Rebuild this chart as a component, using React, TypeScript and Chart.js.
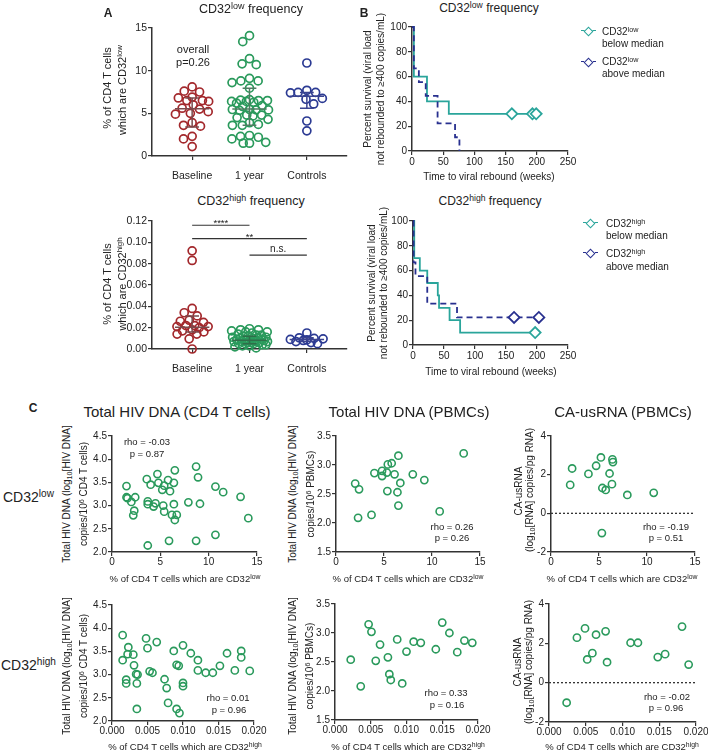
import React, { useEffect, useRef } from 'react';
import { Chart, registerables } from 'chart.js';
Chart.register(...registerables);

const FONT = '"Liberation Sans", Arial, Helvetica, sans-serif';
const INK = '#222';
const RED = '#a3282c';
const GREEN = '#2a9a5c';
const NAVY = '#2b3a93';
const TEAL = '#2aa59b';
const DNAVY = '#28308f';

// ---------- Panel A data ----------
const groupLabels = ['Baseline', '1 year', 'Controls'];
const lowBaseline = [8.1, 7.6, 7.5, 6.9, 6.8, 6.5, 6.5, 6.4, 6.0, 5.6, 5.5, 5.2, 5.0, 4.9, 3.9, 3.6, 3.5, 2.3, 2.0, 1.1];
const lowYear1 = [14.1, 13.4, 11.4, 10.8, 10.7, 9.1, 8.8, 8.8, 8.6, 7.95, 6.6, 6.55, 6.5, 6.5, 6.4, 6.4, 6.3, 6.2, 5.9, 5.8, 5.45, 5.45, 5.4, 5.4, 5.35, 4.8, 4.8, 4.7, 4.5, 4.3, 3.9, 3.7, 3.6, 3.6, 2.4, 2.3, 2.2, 2.0, 1.6, 1.5, 1.5];
const lowControls = [10.9, 7.7, 7.45, 7.4, 7.45, 6.75, 6.65, 6.1, 4.1, 2.95];
const lowMid = [5.55, 5.5, 7.0];
const lowLo = [3.4, 3.6, 5.6];
const lowHi = [6.8, 7.95, 7.45];
const lowYTicks = [0, 5, 10, 15];

const highBaseline = [0.092, 0.083, 0.038, 0.034, 0.031, 0.027, 0.026, 0.025, 0.022, 0.022, 0.021, 0.021, 0.020, 0.018, 0.017, 0.016, 0.014, 0.014, 0.0095, 0.0];
const highYear1 = [0.019, 0.018, 0.018, 0.017, 0.016, 0.016, 0.015, 0.014, 0.013, 0.013, 0.012, 0.012, 0.011, 0.011, 0.010, 0.010, 0.010, 0.009, 0.009, 0.009, 0.008, 0.008, 0.008, 0.008, 0.007, 0.007, 0.007, 0.007, 0.006, 0.006, 0.006, 0.005, 0.005, 0.005, 0.004, 0.004, 0.003, 0.003, 0.002, 0.001];
const highControls = [0.015, 0.0105, 0.010, 0.0095, 0.009, 0.0085, 0.008, 0.007, 0.006, 0.005];
const highMid = [0.0203, 0.0081, 0.0088];
const highLo = [0.016, 0.005, 0.007];
const highHi = [0.031, 0.012, 0.0105];
const highYTicks = [0, 0.02, 0.04, 0.06, 0.08, 0.1, 0.12];
const sigFrom = [1, 1, 2];
const sigTo = [2, 3, 3];
const sigY = [0.116, 0.1035, 0.088];
const sigText = ['****', '**', 'n.s.'];

// ---------- Panel B data ----------
const kmXTicks = [0, 50, 100, 150, 200, 250];
const kmYTicks = [0, 20, 40, 60, 80, 100];
const lowBelowT = [0, 3, 24, 59, 199];
const lowBelowS = [100, 60, 40, 30, 30];
const lowBelowCensT = [160, 193, 199];
const lowBelowCensS = 30;
const lowAboveT = [0, 3, 11, 22, 41, 69, 76];
const lowAboveS = [100, 66.7, 55.6, 44.4, 22.2, 11.1, 0];
const highBelowT = [0, 2, 11, 23, 40, 42, 59, 76, 197];
const highBelowS = [100, 70, 60, 50, 40, 30, 20, 10, 10];
const highBelowCensT = [197];
const highBelowCensS = 10;
const highAboveT = [0, 1, 4, 23, 71, 203];
const highAboveS = [100, 66.7, 55.6, 33.3, 22.2, 22.2];
const highAboveCensT = [163, 203];
const highAboveCensS = 22.2;

// ---------- Panel C data ----------
const lowPctTicks = [0, 5, 10, 15];
const highPctTicks = [0, 0.005, 0.01, 0.015, 0.02];
const cd4DnaTicks = [2, 2.5, 3, 3.5, 4, 4.5];
const pbmcDnaTicks = [1.5, 2, 2.5, 3, 3.5];
const rnaTicks = [-2, 0, 2, 4];

const lowCd4X = [1.5, 1.5, 1.6, 2.0, 2.4, 2.3, 2.2, 3.6, 4.0, 3.7, 3.7, 4.3, 4.5, 3.7, 4.7, 4.8, 5.4, 5.2, 5.3, 5.4, 5.8, 6.0, 6.5, 6.4, 6.4, 6.2, 6.7, 6.5, 5.9, 7.9, 8.7, 8.9, 9.1, 8.7, 10.7, 11.5, 10.7, 13.3, 14.1];
const lowCd4Y = [3.42, 3.18, 3.16, 3.08, 3.18, 2.89, 2.79, 3.57, 3.45, 3.09, 3.03, 2.98, 3.05, 2.14, 3.68, 3.49, 3.43, 3.34, 3.00, 2.87, 3.55, 3.31, 3.76, 3.49, 3.03, 2.80, 2.80, 2.69, 2.24, 3.07, 3.84, 3.61, 3.04, 2.24, 3.41, 3.29, 2.37, 3.19, 2.73];
const lowPbmcX = [2.0, 2.4, 2.3, 3.7, 4.0, 4.8, 4.8, 5.3, 5.4, 5.8, 5.35, 6.1, 6.5, 6.4, 6.5, 6.7, 8.0, 9.2, 10.8, 13.3];
const lowPbmcY = [2.68, 2.58, 2.09, 2.14, 2.86, 2.90, 2.81, 2.87, 3.01, 3.03, 2.55, 2.84, 3.16, 2.53, 2.30, 2.69, 2.84, 2.74, 2.20, 3.20];
const lowRnaX = [2.0, 2.2, 3.9, 4.7, 5.2, 5.35, 5.7, 6.1, 6.35, 6.4, 6.45, 7.95, 10.7, 5.3];
const lowRnaY = [1.47, 2.32, 2.04, 2.46, 2.89, 1.31, 1.21, 2.06, 1.51, 2.79, 2.65, 0.95, 1.06, -1.02];
const highCd4X = [0.0015, 0.0015, 0.0023, 0.0022, 0.0020, 0.0020, 0.0030, 0.0031, 0.0034, 0.0036, 0.0035, 0.0035, 0.0048, 0.0050, 0.0053, 0.0057, 0.0063, 0.0074, 0.0077, 0.0079, 0.0087, 0.0091, 0.0094, 0.0091, 0.0095, 0.0100, 0.0100, 0.0100, 0.0111, 0.0121, 0.0121, 0.0132, 0.0142, 0.0152, 0.0162, 0.0173, 0.0182, 0.0182, 0.0194];
const highCd4Y = [3.85, 3.31, 3.59, 3.44, 2.89, 2.81, 3.43, 3.20, 3.01, 3.00, 2.81, 2.26, 3.78, 3.57, 3.07, 3.04, 3.70, 2.90, 2.71, 2.39, 3.51, 3.21, 3.19, 2.26, 2.17, 3.63, 2.82, 2.75, 3.46, 3.31, 3.09, 3.04, 3.04, 3.19, 3.46, 3.09, 3.51, 3.37, 3.08];
const highPbmcX = [0.0022, 0.0036, 0.0047, 0.0051, 0.0057, 0.0063, 0.0074, 0.0076, 0.0078, 0.0087, 0.0094, 0.0100, 0.0110, 0.0120, 0.0141, 0.0150, 0.0160, 0.0171, 0.0181, 0.0192];
const highPbmcY = [2.54, 2.08, 3.15, 3.02, 2.52, 2.80, 2.58, 2.29, 2.19, 2.89, 2.13, 2.68, 2.85, 2.83, 2.72, 3.18, 3.00, 2.67, 2.87, 2.83];
const highRnaX = [0.0024, 0.0038, 0.0049, 0.0052, 0.0059, 0.0064, 0.0077, 0.0079, 0.0111, 0.0121, 0.0148, 0.0158, 0.0181, 0.0190];
const highRnaY = [-1.02, 2.29, 2.76, 1.18, 1.50, 2.44, 2.61, 1.04, 2.03, 2.03, 1.30, 1.45, 2.85, 0.92];

// ---------- layout ----------
type Area = { l: number; t: number; r: number; b: number };
const A1: Area = { l: 152, t: 28, r: 347, b: 156 };
const A2: Area = { l: 152, t: 221, r: 347, b: 349 };
const B1: Area = { l: 412, t: 27, r: 568, b: 151 };
const B2: Area = { l: 413, t: 221, r: 568, b: 345 };
const C11: Area = { l: 112, t: 436, r: 257, b: 552 };
const C12: Area = { l: 336, t: 436, r: 480, b: 552 };
const C13: Area = { l: 551, t: 436, r: 695, b: 552 };
const C21: Area = { l: 112, t: 605, r: 254, b: 721 };
const C22: Area = { l: 335, t: 604, r: 478, b: 720 };
const C23: Area = { l: 549, t: 604, r: 696, b: 722 };

const CAT_MIN = 0.3;
const CAT_MAX = 3.7;
const pxPerCat = (A1.r - A1.l) / (CAT_MAX - CAT_MIN);

function swarm(values: number[], pxPerY: number, d: number, maxW: number): number[] {
  const idx = values.map((_, i) => i).sort((a, b) => values[b] - values[a]);
  const placed: { x: number; y: number }[] = [];
  const out = new Array(values.length).fill(0);
  for (const i of idx) {
    const y = values[i] * pxPerY;
    let pick = 0;
    for (const f of [1, 0.85, 0.7, 0.55, 0.4, 0.3, 0.2, 0.1, 0]) {
      const dd = d * f;
      const iv: [number, number][] = [];
      const cands = [0];
      for (const p of placed) {
        const dy = Math.abs(p.y - y);
        if (dy < dd) {
          const dx = Math.sqrt(dd * dd - dy * dy);
          iv.push([p.x - dx, p.x + dx]);
          cands.push(p.x - dx, p.x + dx);
        }
      }
      cands.sort((a, b) => Math.abs(a) - Math.abs(b));
      const ok = cands.find((c) => iv.every(([a, b]) => c <= a + 1e-6 || c >= b - 1e-6));
      if (ok !== undefined && Math.abs(ok) <= maxW) {
        pick = ok;
        break;
      }
    }
    placed.push({ x: pick, y });
    out[i] = pick;
  }
  return out;
}

const fmt = (dec: number) => (v: number) => v.toFixed(dec);

function axis(o: { ticks: number[]; min: number; max: number; f: (v: number) => string; size: number; pad: number; yw?: number; xh?: number }) {
  return {
    type: 'linear',
    min: o.min,
    max: o.max,
    afterBuildTicks: (s: any) => {
      s.ticks = o.ticks.map((v) => ({ value: v }));
    },
    afterFit: (s: any) => {
      if (o.yw !== undefined) s.width = o.yw;
      if (o.xh !== undefined) s.height = o.xh;
    },
    ticks: {
      autoSkip: false,
      maxRotation: 0,
      minRotation: 0,
      padding: o.pad,
      color: INK,
      font: { family: FONT, size: o.size },
      callback: (v: any) => o.f(Number(v)),
    },
    grid: { drawOnChartArea: false, drawTicks: true, tickLength: 4, color: '#333', lineWidth: 1.2 },
    border: { display: true, color: '#333', width: 1.5 },
  };
}

function baseOptions(x: any, y: any, plugins: any = {}) {
  return {
    responsive: false,
    maintainAspectRatio: false,
    animation: false,
    devicePixelRatio: 1,
    events: [],
    plugins: { legend: { display: false }, tooltip: { enabled: false }, ...plugins },
    scales: { x, y },
  };
}

const summaryPlugin = {
  id: 'summaryBars',
  afterDatasetsDraw(chart: any, _a: any, opts: any) {
    if (!opts || !opts.mid) return;
    const { ctx, scales } = chart;
    const x = scales.x;
    const y = scales.y;
    ctx.save();
    ctx.lineWidth = 1.5;
    opts.mid.forEach((m: number, i: number) => {
      const c = i + 1;
      ctx.strokeStyle = opts.colors[i];
      ctx.beginPath();
      ctx.moveTo(x.getPixelForValue(c - 0.3), y.getPixelForValue(m));
      ctx.lineTo(x.getPixelForValue(c + 0.3), y.getPixelForValue(m));
      ctx.moveTo(x.getPixelForValue(c), y.getPixelForValue(opts.lo[i]));
      ctx.lineTo(x.getPixelForValue(c), y.getPixelForValue(opts.hi[i]));
      for (const v of [opts.lo[i], opts.hi[i]]) {
        ctx.moveTo(x.getPixelForValue(c - 0.12), y.getPixelForValue(v));
        ctx.lineTo(x.getPixelForValue(c + 0.12), y.getPixelForValue(v));
      }
      ctx.stroke();
    });
    ctx.restore();
  },
};

const sigPlugin = {
  id: 'sigBars',
  afterDatasetsDraw(chart: any, _a: any, opts: any) {
    if (!opts || !opts.from) return;
    const { ctx, scales } = chart;
    const x = scales.x;
    const y = scales.y;
    ctx.save();
    ctx.strokeStyle = '#333';
    ctx.lineWidth = 1.2;
    ctx.fillStyle = INK;
    ctx.textAlign = 'center';
    ctx.textBaseline = 'alphabetic';
    opts.from.forEach((f: number, i: number) => {
      const x0 = x.getPixelForValue(f);
      const x1 = x.getPixelForValue(opts.to[i]);
      const yy = y.getPixelForValue(opts.y[i]);
      ctx.beginPath();
      ctx.moveTo(x0, yy);
      ctx.lineTo(x1, yy);
      ctx.stroke();
      const star = opts.text[i].startsWith('*');
      ctx.font = `${star ? 9.5 : 10}px ${FONT}`;
      ctx.fillText(opts.text[i], (x0 + x1) / 2, star ? yy + 1 : yy - 3);
    });
    ctx.restore();
  },
};

function groupSets(groups: number[][], colors: string[], pxPerY: number, maxWs: number[]) {
  return groups.map((vals, g) => {
    const off = swarm(vals, pxPerY, 9, maxWs[g]);
    return {
      data: vals.map((v, i) => ({ x: g + 1 + off[i] / pxPerCat, y: v })),
      borderColor: colors[g],
      pointBorderColor: colors[g],
      pointBackgroundColor: 'rgba(0,0,0,0)',
      backgroundColor: 'rgba(0,0,0,0)',
      pointRadius: 4,
      pointBorderWidth: 1.7,
      clip: false,
    };
  });
}

function panelA(area: Area, groups: number[][], yTicks: number[], yMax: number, dec: number, summary: any, sig: any, maxWs: number[]) {
  const pxPerY = (area.b - area.t) / yMax;
  return () => ({
    type: 'scatter',
    data: { datasets: groupSets(groups, [RED, GREEN, NAVY], pxPerY, maxWs) },
    options: baseOptions(
      axis({ ticks: [1, 2, 3], min: CAT_MIN, max: CAT_MAX, f: (v) => groupLabels[Math.round(v) - 1] || '', size: 10.5, pad: 10, xh: 30 }),
      axis({ ticks: yTicks, min: 0, max: yMax, f: fmt(dec), size: 10.5, pad: 1, yw: 40 }),
      { summaryBars: summary, sigBars: sig || {} }
    ),
    plugins: [summaryPlugin, sigPlugin],
  });
}

function kmLine(t: number[], s: number[], color: string, dash: number[]) {
  return {
    type: 'line',
    data: t.map((v, i) => ({ x: v, y: s[i] })),
    stepped: true,
    borderColor: color,
    borderWidth: 1.8,
    borderDash: dash,
    pointRadius: 0,
    fill: false,
    clip: false,
    order: 1,
  };
}
function kmCens(t: number[], s: number, color: string) {
  return {
    type: 'scatter',
    data: t.map((v) => ({ x: v, y: s })),
    pointStyle: 'rectRot',
    pointRadius: 5.5,
    pointBorderColor: color,
    pointBackgroundColor: '#ffffff',
    pointBorderWidth: 1.8,
    clip: false,
    order: 0,
  };
}

function panelB(datasets: any[]) {
  return () => ({
    type: 'scatter',
    data: { datasets },
    options: baseOptions(
      axis({ ticks: kmXTicks, min: 0, max: 250, f: fmt(0), size: 10, pad: 1, xh: 22 }),
      axis({ ticks: kmYTicks, min: 0, max: 100, f: fmt(0), size: 10, pad: 1, yw: 30 })
    ),
  });
}

function panelC(xs: number[], ys: number[], xTicks: number[], xDec: number, yTicks: number[], yDec: number, zeroLine: boolean) {
  const xMax = xTicks[xTicks.length - 1];
  const sets: any[] = [
    {
      data: xs.map((x, i) => ({ x, y: ys[i] })),
      pointBorderColor: GREEN,
      borderColor: GREEN,
      pointBackgroundColor: 'rgba(0,0,0,0)',
      pointRadius: 3.6,
      pointBorderWidth: 1.6,
      clip: false,
    },
  ];
  if (zeroLine) {
    sets.push({
      type: 'line',
      data: [{ x: 0, y: 0 }, { x: xMax, y: 0 }],
      borderColor: '#333',
      borderWidth: 1.3,
      borderDash: [2, 2],
      pointRadius: 0,
      fill: false,
    });
  }
  return () => ({
    type: 'scatter',
    data: { datasets: sets },
    options: baseOptions(
      axis({ ticks: xTicks, min: 0, max: xMax, f: fmt(xDec), size: 10, pad: 0, xh: 22 }),
      axis({ ticks: yTicks, min: yTicks[0], max: yTicks[yTicks.length - 1], f: fmt(yDec), size: 10, pad: 1, yw: 32 })
    ),
  });
}

function ChartBox({ area, yw, xh, make, padT = 10, padR = 22 }: { area: Area; yw: number; xh: number; make: () => any; padT?: number; padR?: number }) {
  const ref = useRef<HTMLCanvasElement>(null);
  const left = area.l - yw;
  const top = area.t - padT;
  const width = area.r - area.l + yw + padR;
  const height = area.b - area.t + padT + xh;
  useEffect(() => {
    const cfg = make();
    cfg.options.layout = { padding: { left: 0, top: padT, right: padR, bottom: 0 } };
    const c = new Chart(ref.current as HTMLCanvasElement, cfg);
    return () => c.destroy();
  }, []);
  return <canvas ref={ref} width={width} height={height} style={{ position: 'absolute', left, top, width, height }} />;
}

const Sup = ({ children }: any) => <span style={{ fontSize: '0.72em', position: 'relative', top: '-0.45em' }}>{children}</span>;
const Sub = ({ children }: any) => <span style={{ fontSize: '0.72em', position: 'relative', top: '0.3em' }}>{children}</span>;

function Txt({ x, y, size = 11, rot = false, anchor = 'middle', weight = 400, children }: any) {
  const tx = anchor === 'start' ? '0' : anchor === 'end' ? '-100%' : '-50%';
  return (
    <div
      style={{
        position: 'absolute',
        left: x,
        top: y,
        transform: `translate(${tx},-50%)${rot ? ' rotate(-90deg)' : ''}`,
        fontFamily: FONT,
        fontSize: size,
        fontWeight: weight,
        color: INK,
        whiteSpace: 'nowrap',
        lineHeight: 1,
      }}
    >
      {children}
    </div>
  );
}

function LegendMark({ x, y, color, dashed }: any) {
  return (
    <>
      <div style={{ position: 'absolute', left: x - 7, top: y - 0.9, width: 15, height: 0, borderTop: `1.8px ${dashed ? 'dashed' : 'solid'} ${color}` }} />
      <div style={{ position: 'absolute', left: x - 3.5, top: y - 3.5, width: 7, height: 7, border: `1.8px solid ${color}`, background: '#fff', transform: 'rotate(45deg)', boxSizing: 'border-box' }} />
    </>
  );
}

export default function App() {
  const lowWord = <>CD32<Sup>low</Sup></>;
  const highWord = <>CD32<Sup>high</Sup></>;
  return (
    <div style={{ position: 'absolute', left: 0, top: 0, width: 708, height: 752, background: '#fff', overflow: 'hidden' }}>
      <ChartBox area={A1} yw={40} xh={30} make={panelA(A1, [lowBaseline, lowYear1, lowControls], lowYTicks, 15, 0, { mid: lowMid, lo: lowLo, hi: lowHi, colors: ['#7a4a4c', '#4f7d62', '#3a4390'] }, null, [17, 19, 17])} />
      <ChartBox area={A2} yw={40} xh={30} make={panelA(A2, [highBaseline, highYear1, highControls], highYTicks, 0.12, 2, { mid: highMid, lo: highLo, hi: highHi, colors: ['#7a4a4c', '#2f6e4a', '#3a4390'] }, { from: sigFrom, to: sigTo, y: sigY, text: sigText }, [16, 18, 17])} />
      <ChartBox area={B1} yw={30} xh={22} make={panelB([kmCens(lowBelowCensT, lowBelowCensS, TEAL), kmLine(lowAboveT, lowAboveS, DNAVY, [6, 4]), kmLine(lowBelowT, lowBelowS, TEAL, [])])} />
      <ChartBox area={B2} yw={30} xh={22} make={panelB([kmCens(highBelowCensT, highBelowCensS, TEAL), kmCens(highAboveCensT, highAboveCensS, DNAVY), kmLine(highAboveT, highAboveS, DNAVY, [6, 4]), kmLine(highBelowT, highBelowS, TEAL, [])])} />
      <ChartBox area={C11} yw={32} xh={22} make={panelC(lowCd4X, lowCd4Y, lowPctTicks, 0, cd4DnaTicks, 1, false)} />
      <ChartBox area={C12} yw={32} xh={22} make={panelC(lowPbmcX, lowPbmcY, lowPctTicks, 0, pbmcDnaTicks, 1, false)} />
      <ChartBox area={C13} yw={32} xh={22} make={panelC(lowRnaX, lowRnaY, lowPctTicks, 0, rnaTicks, 0, true)} />
      <ChartBox area={C21} yw={32} xh={22} make={panelC(highCd4X, highCd4Y, highPctTicks, 3, cd4DnaTicks, 1, false)} />
      <ChartBox area={C22} yw={32} xh={22} make={panelC(highPbmcX, highPbmcY, highPctTicks, 3, pbmcDnaTicks, 1, false)} />
      <ChartBox area={C23} yw={32} xh={22} make={panelC(highRnaX, highRnaY, highPctTicks, 3, rnaTicks, 0, true)} />

      {/* panel letters */}
      <Txt x={108} y={13} size={12} weight={700}>A</Txt>
      <Txt x={364} y={13} size={12} weight={700}>B</Txt>
      <Txt x={33} y={408} size={12} weight={700}>C</Txt>

      {/* Panel A text */}
      <Txt x={251} y={9} size={12.5}>{lowWord} frequency</Txt>
      <Txt x={251} y={201} size={12.5}>{highWord} frequency</Txt>
      <Txt x={107} y={88} size={11} rot>% of CD4 T cells</Txt>
      <Txt x={122} y={90} size={11} rot>which are {lowWord}</Txt>
      <Txt x={107} y={284} size={11} rot>% of CD4 T cells</Txt>
      <Txt x={122} y={284} size={11} rot>which are {highWord}</Txt>
      <Txt x={193} y={49} size={11}>overall</Txt>
      <Txt x={193} y={62} size={11}>p=0.26</Txt>

      {/* Panel B text */}
      <Txt x={489} y={8} size={12}>{lowWord} frequency</Txt>
      <Txt x={490} y={201} size={12}>{highWord} frequency</Txt>
      <Txt x={368} y={89} size={10} rot>Percent survival (viral load</Txt>
      <Txt x={381} y={89} size={10} rot>not rebounded to ≥400 copies/mL)</Txt>
      <Txt x={372} y={283} size={10} rot>Percent survival (viral load</Txt>
      <Txt x={384} y={283} size={10} rot>not rebounded to ≥400 copies/mL)</Txt>
      <Txt x={489} y={177} size={10}>Time to viral rebound (weeks)</Txt>
      <Txt x={491} y={372} size={10}>Time to viral rebound (weeks)</Txt>
      <LegendMark x={588} y={31} color={TEAL} />
      <Txt x={602} y={32} size={10} anchor="start">{lowWord}</Txt>
      <Txt x={602} y={44} size={10} anchor="start">below median</Txt>
      <LegendMark x={588} y={62} color={DNAVY} dashed />
      <Txt x={602} y={62} size={10} anchor="start">{lowWord}</Txt>
      <Txt x={602} y={74} size={10} anchor="start">above median</Txt>
      <LegendMark x={590} y={223} color={TEAL} />
      <Txt x={606} y={224} size={10} anchor="start">{highWord}</Txt>
      <Txt x={606} y={236} size={10} anchor="start">below median</Txt>
      <LegendMark x={590} y={253} color={DNAVY} dashed />
      <Txt x={606} y={254} size={10} anchor="start">{highWord}</Txt>
      <Txt x={606} y={267} size={10} anchor="start">above median</Txt>

      {/* Panel C text */}
      <Txt x={177} y={411} size={15}>Total HIV DNA (CD4 T cells)</Txt>
      <Txt x={409} y={411} size={15}>Total HIV DNA (PBMCs)</Txt>
      <Txt x={623} y={411} size={15}>CA-usRNA (PBMCs)</Txt>
      <Txt x={3} y={497} size={14} anchor="start">{lowWord}</Txt>
      <Txt x={1} y={665} size={14} anchor="start">{highWord}</Txt>

      <Txt x={67} y={494} size={10} rot>Total HIV DNA (log<Sub>10</Sub>[HIV DNA]</Txt>
      <Txt x={84} y={494} size={10} rot>copies/10<Sup>6</Sup> CD4 T cells)</Txt>
      <Txt x={293} y={494} size={10} rot>Total HIV DNA (log<Sub>10</Sub>[HIV DNA]</Txt>
      <Txt x={311} y={494} size={10} rot>copies/10<Sup>6</Sup> PBMCs)</Txt>
      <Txt x={519} y={491} size={10} rot>CA-usRNA</Txt>
      <Txt x={530} y={490} size={10} rot>(log<Sub>10</Sub>[RNA] copies/pg RNA)</Txt>
      <Txt x={67} y={666} size={10} rot>Total HIV DNA (log<Sub>10</Sub>[HIV DNA]</Txt>
      <Txt x={84} y={666} size={10} rot>copies/10<Sup>6</Sup> CD4 T cells)</Txt>
      <Txt x={293} y={666} size={10} rot>Total HIV DNA (log<Sub>10</Sub>[HIV DNA]</Txt>
      <Txt x={310} y={666} size={10} rot>copies/10<Sup>6</Sup> PBMCs)</Txt>
      <Txt x={518} y={662} size={10} rot>CA-usRNA</Txt>
      <Txt x={529} y={662} size={10} rot>(log<Sub>10</Sub>[RNA] copies/pg RNA)</Txt>

      <Txt x={185} y={579} size={9.5}>% of CD4 T cells which are {lowWord}</Txt>
      <Txt x={408} y={579} size={9.5}>% of CD4 T cells which are {lowWord}</Txt>
      <Txt x={622} y={579} size={9.5}>% of CD4 T cells which are {lowWord}</Txt>
      <Txt x={185} y={747} size={9.5}>% of CD4 T cells which are {highWord}</Txt>
      <Txt x={408} y={747} size={9.5}>% of CD4 T cells which are {highWord}</Txt>
      <Txt x={622} y={747} size={9.5}>% of CD4 T cells which are {highWord}</Txt>

      <Txt x={147} y={442} size={9.5}>rho = -0.03</Txt>
      <Txt x={147} y={454} size={9.5}>p = 0.87</Txt>
      <Txt x={452} y={527} size={9.5}>rho = 0.26</Txt>
      <Txt x={452} y={538} size={9.5}>p = 0.26</Txt>
      <Txt x={666} y={527} size={9.5}>rho = -0.19</Txt>
      <Txt x={666} y={538} size={9.5}>p = 0.51</Txt>
      <Txt x={228} y={698} size={9.5}>rho = 0.01</Txt>
      <Txt x={229} y={710} size={9.5}>p = 0.96</Txt>
      <Txt x={446} y={693} size={9.5}>rho = 0.33</Txt>
      <Txt x={447} y={705} size={9.5}>p = 0.16</Txt>
      <Txt x={667} y={697} size={9.5}>rho = -0.02</Txt>
      <Txt x={666} y={708} size={9.5}>p = 0.96</Txt>
    </div>
  );
}
